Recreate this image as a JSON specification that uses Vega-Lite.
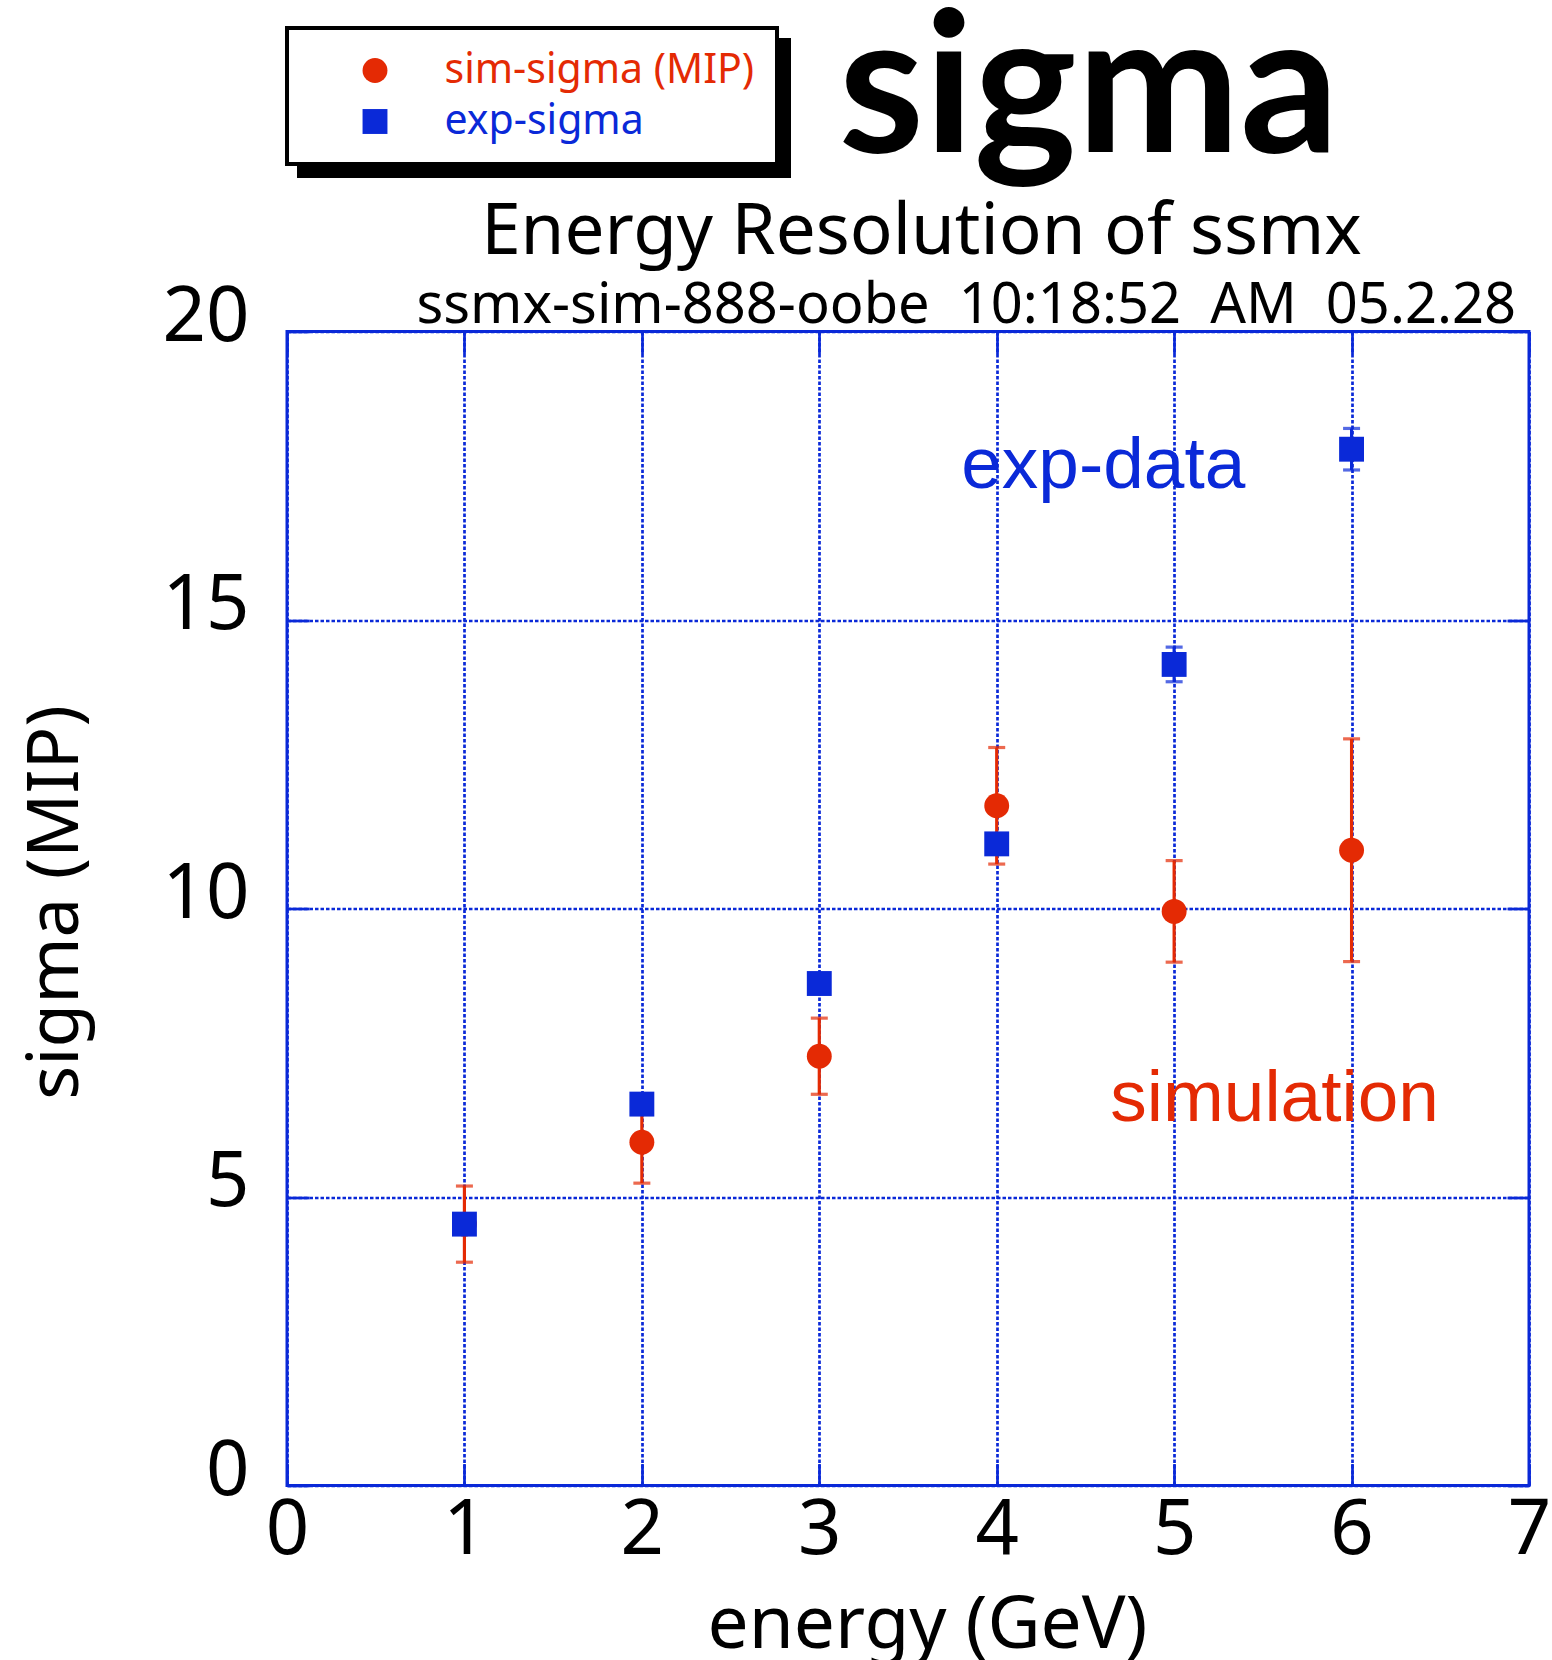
{
  "$schema": "https://vega.github.io/schema/vega-lite/v6.json",
  "width": 1242,
  "height": 1154,
  "autosize": "none",
  "padding": {"left": 287, "top": 331.5, "right": 23, "bottom": 174.5},
  "background": "white",
  "datasets": {
    "points": [
      {"series": "sim-sigma (MIP)", "energy": 1, "sigma": 4.53, "err": 0.66},
      {"series": "sim-sigma (MIP)", "energy": 2, "sigma": 5.95, "err": 0.71},
      {"series": "sim-sigma (MIP)", "energy": 3, "sigma": 7.44, "err": 0.66},
      {"series": "sim-sigma (MIP)", "energy": 4, "sigma": 11.78, "err": 1.01},
      {"series": "sim-sigma (MIP)", "energy": 5, "sigma": 9.95, "err": 0.88},
      {"series": "sim-sigma (MIP)", "energy": 6, "sigma": 11.01, "err": 1.93},
      {"series": "exp-sigma", "energy": 1, "sigma": 4.53, "err": 0.15},
      {"series": "exp-sigma", "energy": 2, "sigma": 6.61, "err": 0.15},
      {"series": "exp-sigma", "energy": 3, "sigma": 8.70, "err": 0.15},
      {"series": "exp-sigma", "energy": 4, "sigma": 11.12, "err": 0.15},
      {"series": "exp-sigma", "energy": 5, "sigma": 14.23, "err": 0.30},
      {"series": "exp-sigma", "energy": 6, "sigma": 17.96, "err": 0.36}
    ],
    "notes": [
      {"label": "exp-data", "energy": 3.80, "sigma": 17.28, "series": "exp-sigma"},
      {"label": "simulation", "energy": 4.64, "sigma": 6.32, "series": "sim-sigma (MIP)"}
    ]
  },
  "resolve": {"axis": {"x": "independent", "y": "independent"}},
  "layer": [
    {
      "data": {"name": "points"},
      "mark": {
        "type": "errorbar", "ticks": {"thickness": 3.2}, "rule": {"strokeWidth": 3.2},
        "size": 17, "thickness": 3.2
      },
      "encoding": {
        "x": {
          "field": "energy", "type": "quantitative",
          "scale": {"domain": [0, 7], "nice": false, "zero": false},
          "axis": {
            "orient": "bottom", "values": [0, 1, 2, 3, 4, 5, 6, 7],
            "grid": true, "gridColor": "#0a29d8", "gridDash": [3.5, 2], "gridWidth": 2.7,
            "domain": false, "ticks": true, "tickSize": -22, "tickColor": "#0a29d8", "tickWidth": 2.7,
            "labels": true, "labelFont": "Noto Sans", "labelFontSize": 76, "labelColor": "black",
            "labelPadding": 30, "labelFlush": false, "labelOverlap": false,
            "title": "energy (GeV)", "titleFont": "Noto Sans", "titleFontSize": 73, "titleFontWeight": "normal",
            "titleColor": "black", "titleX": 640, "titleY": 161.5, "titleBaseline": "alphabetic", "titleAlign": "center"
          }
        },
        "y": {
          "field": "sigma", "type": "quantitative",
          "scale": {"domain": [0, 20], "nice": false, "zero": false},
          "axis": {
            "orient": "left", "values": [0, 5, 10, 15, 20],
            "grid": true, "gridColor": "#0a29d8", "gridDash": [3.5, 2], "gridWidth": 2.7,
            "domain": false, "ticks": true, "tickSize": -22, "tickColor": "#0a29d8", "tickWidth": 2.7,
            "labels": true, "labelFont": "Noto Sans", "labelFontSize": 76, "labelColor": "black",
            "labelPadding": 60, "labelOffset": -14.5, "labelFlush": false, "labelOverlap": false,
            "title": "sigma (MIP)", "titleFont": "Noto Sans", "titleFontSize": 71, "titleFontWeight": "normal",
            "titleColor": "black", "titleX": -210, "titleY": 570.5, "titleAngle": 270,
            "titleBaseline": "alphabetic", "titleAlign": "center"
          }
        },
        "yError": {"field": "err"},
        "color": {
          "field": "series", "type": "nominal",
          "scale": {"domain": ["sim-sigma (MIP)", "exp-sigma"], "range": ["#e42a04", "#0a29d8"]}
        }
      }
    },
    {
      "data": {"name": "points"},
      "mark": {"type": "point", "filled": true, "size": 620, "opacity": 1},
      "encoding": {
        "x": {
          "field": "energy", "type": "quantitative",
          "axis": {
            "orient": "top", "values": [0, 1, 2, 3, 4, 5, 6, 7],
            "grid": false, "domain": false, "labels": false,
            "ticks": true, "tickSize": -22, "tickColor": "#0a29d8", "tickWidth": 2.7,
            "title": "ssmx-sim-888-oobe\u00a0\u00a010:18:52\u00a0\u00a0AM\u00a0\u00a005.2.28",
            "titleFont": "Noto Sans", "titleFontSize": 56, "titleFontWeight": "normal", "titleColor": "black",
            "titleAlign": "right", "titleX": 1228.5, "titleY": -9.5, "titleBaseline": "alphabetic"
          }
        },
        "y": {
          "field": "sigma", "type": "quantitative",
          "axis": {
            "orient": "right", "values": [0, 5, 10, 15, 20],
            "grid": false, "domain": false, "labels": false,
            "ticks": true, "tickSize": -22, "tickColor": "#0a29d8", "tickWidth": 2.7,
            "title": null
          }
        },
        "color": {
          "field": "series", "type": "nominal",
          "scale": {"domain": ["sim-sigma (MIP)", "exp-sigma"], "range": ["#e42a04", "#0a29d8"]},
          "legend": {
            "title": null, "orient": "none", "direction": "vertical", "legendX": 0, "legendY": -303.5,
            "fillColor": "white", "strokeColor": "black", "zindex": 1,
            "labelColor": {"expr": "datum.value == 'exp-sigma' ? '#0a29d8' : '#e42a04'"}
          }
        },
        "shape": {
          "field": "series", "type": "nominal",
          "scale": {"domain": ["sim-sigma (MIP)", "exp-sigma"], "range": ["circle", "square"]},
          "legend": {
            "title": null, "orient": "none", "direction": "vertical", "legendX": 0, "legendY": -303.5,
            "fillColor": "white", "strokeColor": "black", "zindex": 1,
            "labelColor": {"expr": "datum.value == 'exp-sigma' ? '#0a29d8' : '#e42a04'"}
          }
        }
      }
    },
    {
      "data": {"name": "notes"},
      "mark": {"type": "text", "font": "Liberation Sans", "fontSize": 73, "align": "left", "baseline": "alphabetic"},
      "encoding": {
        "x": {
          "field": "energy", "type": "quantitative",
          "axis": {
            "orient": "top", "grid": false, "domain": false, "labels": false, "ticks": false,
            "title": "Energy Resolution of ssmx", "titleFont": "Noto Sans", "titleFontSize": 71,
            "titleFontWeight": "normal", "titleColor": "black",
            "titleX": 634, "titleY": -78, "titleBaseline": "alphabetic", "titleAlign": "center"
          }
        },
        "y": {
          "field": "sigma", "type": "quantitative",
          "axis": {
            "orient": "left", "grid": false, "domain": false, "labels": false, "ticks": false,
            "title": "sigma", "titleFont": "Lato", "titleFontSize": 195, "titleFontWeight": "bold",
            "titleColor": "black", "titleAngle": 0, "titleX": 551, "titleY": -180,
            "titleAlign": "left", "titleBaseline": "alphabetic"
          }
        },
        "text": {"field": "label"},
        "color": {
          "field": "series", "type": "nominal",
          "scale": {"domain": ["sim-sigma (MIP)", "exp-sigma"], "range": ["#e42a04", "#0a29d8"]}
        },
        "opacity": {
          "field": "label", "type": "nominal",
          "scale": {"range": [1, 1]},
          "legend": {
            "title": null, "orient": "none", "direction": "vertical", "legendX": 12, "legendY": -291.5,
            "fillColor": "black", "strokeColor": "black", "zindex": 0,
            "symbolFillColor": "black", "symbolStrokeColor": "black", "labelColor": "black",
            "labelExpr": "datum.label == 'exp-data' ? 'exp-sigma' : 'sim-sigma (MIP)'"
          }
        }
      }
    }
  ],
  "config": {
    "view": {"stroke": "#0a29d8", "strokeWidth": 3},
    "legend": {
      "labelFont": "Noto Sans", "labelFontSize": 41, "labelLimit": 0,
      "padding": 22, "symbolOffset": 45.5, "labelOffset": 49, "rowPadding": 9,
      "symbolSize": 620, "symbolStrokeWidth": 0, "symbolType": "circle", "symbolOpacity": 1,
      "strokeWidth": 4
    }
  }
}
